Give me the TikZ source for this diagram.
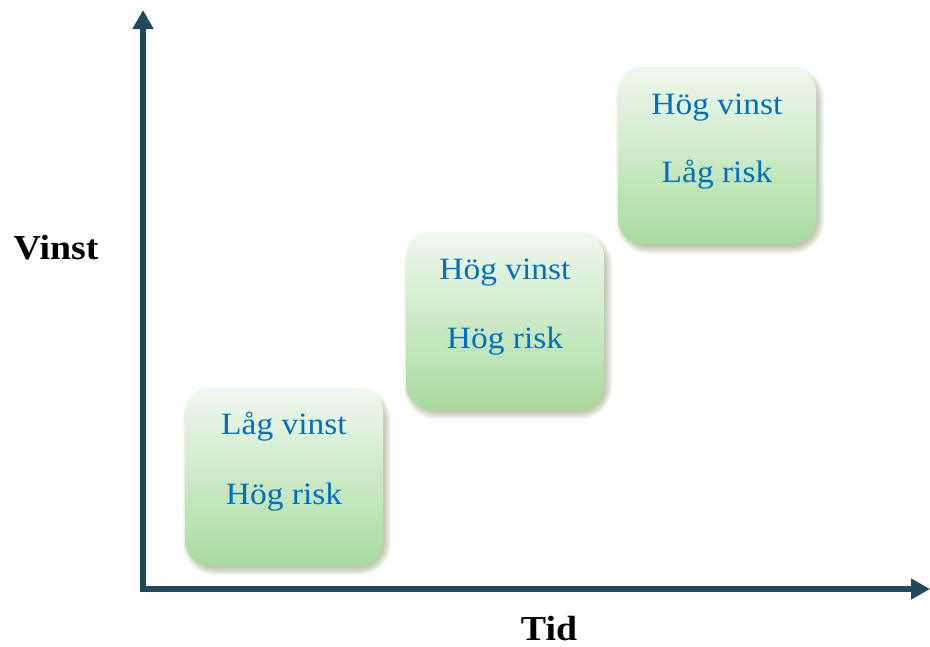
\documentclass[tikz,border=0pt]{standalone}
\usepackage{fontspec}
\setmainfont[FakeStretch=1.08]{Liberation Serif}
\usetikzlibrary{arrows.meta}

\definecolor{axiscol}{HTML}{1F4A5E}
\definecolor{labelblue}{HTML}{0070C0}
\definecolor{boxtop}{HTML}{F0F8EE}
\definecolor{boxbottom}{HTML}{A8DC9F}
\definecolor{shadowcol}{HTML}{6E7F48}

\tikzset{
  axisline/.style={draw=axiscol, line width=6pt, line join=miter,
    {Triangle[width=20pt,length=19pt]}-{Triangle[width=20pt,length=19pt]}},
  tile/.style={rectangle, rounded corners=24pt, minimum width=198pt,
    minimum height=177pt, top color=boxtop, bottom color=boxbottom, draw=none},
  shadowlayer/.style={rectangle, fill=shadowcol, fill opacity=0.065, draw=none},
  tiletext/.style={text=labelblue, anchor=base, inner sep=0pt,
    font=\fontsize{31}{36}\selectfont},
  axislabel/.style={text=black, anchor=base, inner sep=0pt,
    font=\bfseries\fontsize{35}{40}\selectfont},
}

\begin{document}
\begin{tikzpicture}[x=1pt,y=-1pt]
\useasboundingbox (0,0) rectangle (930,646);

% soft shadows under the three tiles
\foreach \cx/\cy in {284/476.5, 505/320.5, 717/155}{
  \foreach \k in {1,...,8}{
    \node[shadowlayer, rounded corners={24pt+\k pt},
      minimum width={198pt+2pt*\k-6pt}, minimum height={177pt+2pt*\k-6pt}]
      at (\cx+3,\cy+5) {};
  }
}

% axes
\coordinate (origin) at (143,589);
\coordinate (ytip) at (143,10);
\coordinate (xtip) at (930,589);
\draw[axisline] (ytip) -- (origin) -- (xtip);

% tiles
\node[tile] (low) at (284,476.5) {};
\node[tile] (mid) at (505,320.5) {};
\node[tile] (high) at (717,155) {};

\node[tiletext] (lowA) at ([yshift=-47pt]low.north) {Låg vinst};
\node[tiletext] (lowB) at ([yshift=-117pt]low.north) {Hög risk};
\node[tiletext] (midA) at ([yshift=-48pt]mid.north) {Hög vinst};
\node[tiletext] (midB) at ([yshift=-117pt]mid.north) {Hög risk};
\node[tiletext] (highA) at ([yshift=-48pt]high.north) {Hög vinst};
\node[tiletext] (highB) at ([yshift=-116pt]high.north) {Låg risk};

% axis labels
\node[axislabel] (vinst) at (56,259) {Vinst};
\node[axislabel] (tid) at (549,640) {Tid};
\end{tikzpicture}
\end{document}
